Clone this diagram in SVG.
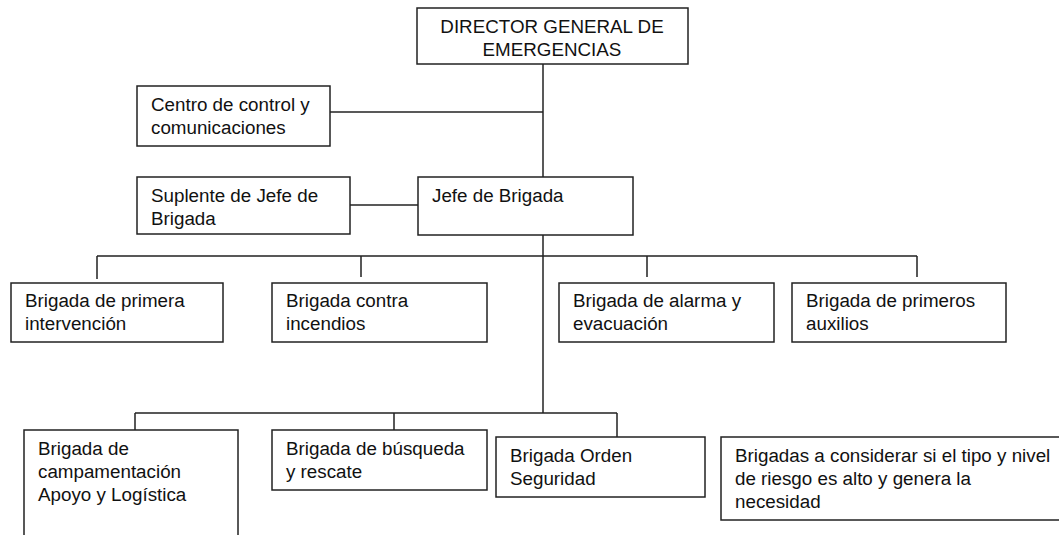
<svg xmlns="http://www.w3.org/2000/svg" width="1059" height="535" viewBox="0 0 1059 535">
<style>
.box{fill:#fff;stroke:#222;stroke-width:1.5}
.ln{stroke:#222;stroke-width:1.5;fill:none}
text{font-family:"Liberation Sans",Arial,sans-serif;font-size:18.8px;fill:#111}
.c{text-anchor:middle}
</style>
<rect width="1059" height="535" fill="#fff"/>
<g id="connectors">
<path class="ln" d="M543 64V413"/>
<path class="ln" d="M330 112H543"/>
<path class="ln" d="M350 205H418"/>
<path class="ln" d="M97 256H917M97 256V279M361 256V277M647 256V277M917 256V277"/>
<path class="ln" d="M135 413H617M135 413V430M394 413V430M617 413V437"/>
</g>
<g id="director">
<rect class="box" x="417" y="8" width="271" height="56"/>
<text class="c" x="552" y="33">DIRECTOR GENERAL DE</text>
<text class="c" x="552" y="56">EMERGENCIAS</text>
</g>
<g id="centro">
<rect class="box" x="137" y="86" width="193" height="60"/>
<text x="151" y="111">Centro de control y</text>
<text x="151" y="134">comunicaciones</text>
</g>
<g id="suplente">
<rect class="box" x="137" y="177" width="213" height="57"/>
<text x="151" y="202">Suplente de Jefe de</text>
<text x="151" y="225">Brigada</text>
</g>
<g id="jefe">
<rect class="box" x="418" y="177" width="215" height="58"/>
<text x="432" y="202">Jefe de Brigada</text>
</g>
<g id="primera">
<rect class="box" x="11" y="283" width="212" height="59"/>
<text x="25" y="307">Brigada de primera</text>
<text x="25" y="330">intervención</text>
</g>
<g id="incendios">
<rect class="box" x="272" y="283" width="215" height="59"/>
<text x="286" y="307">Brigada contra</text>
<text x="286" y="330">incendios</text>
</g>
<g id="alarma">
<rect class="box" x="559" y="283" width="215" height="59"/>
<text x="573" y="307">Brigada de alarma y</text>
<text x="573" y="330">evacuación</text>
</g>
<g id="auxilios">
<rect class="box" x="792" y="283" width="214" height="59"/>
<text x="806" y="307">Brigada de primeros</text>
<text x="806" y="330">auxilios</text>
</g>
<g id="campamentacion">
<rect class="box" x="24" y="430" width="214" height="120"/>
<text x="38" y="455">Brigada de</text>
<text x="38" y="478">campamentación</text>
<text x="38" y="501">Apoyo y Logística</text>
</g>
<g id="busqueda">
<rect class="box" x="272" y="430" width="215" height="60"/>
<text x="286" y="455">Brigada de búsqueda</text>
<text x="286" y="478">y rescate</text>
</g>
<g id="orden">
<rect class="box" x="496" y="437" width="209" height="60"/>
<text x="510" y="462">Brigada Orden</text>
<text x="510" y="485">Seguridad</text>
</g>
<g id="considerar">
<rect class="box" x="721" y="437" width="345" height="83"/>
<text x="735" y="462">Brigadas a considerar si el tipo y nivel</text>
<text x="735" y="485">de riesgo es alto y genera la</text>
<text x="735" y="508">necesidad</text>
</g>
</svg>
